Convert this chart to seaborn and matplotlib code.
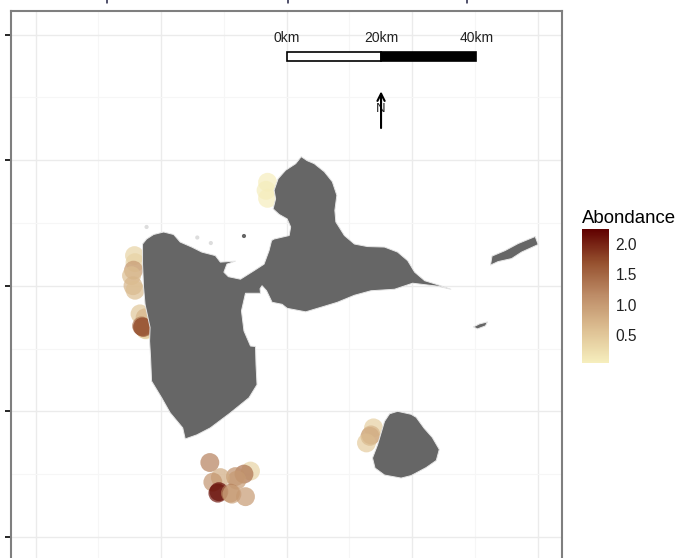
import pandas as pd
import matplotlib
matplotlib.use('Agg')
import matplotlib.pyplot as plt
import seaborn as sns
from matplotlib.colors import LinearSegmentedColormap, Normalize
from matplotlib.cm import ScalarMappable
from matplotlib.lines import Line2D
from matplotlib.patches import Polygon, Rectangle

# sampling sites
site_lon = [-61.538, -61.541, -61.538, -61.803, -61.802, -61.805, -61.809, -61.806, -61.802,
            -61.792, -61.782, -61.780, -61.782, -61.789, -61.787, -61.785,
            -61.653, -61.572, -61.585, -61.602, -61.599, -61.632, -61.647, -61.635, -61.637,
            -61.612, -61.609, -61.582, -61.327, -61.334, -61.341, -61.332]
site_lat = [16.456, 16.440, 16.424, 16.310, 16.296, 16.281, 16.270, 16.250, 16.241,
            16.194, 16.186, 16.162, 16.163, 16.170, 16.168, 16.167,
            15.898, 15.881, 15.875, 15.870, 15.863, 15.868, 15.859, 15.840, 15.837,
            15.837, 15.835, 15.830, 15.967, 15.950, 15.937, 15.953]
abondance = [0.05, 0.06, 0.05, 0.35, 0.35, 1.0, 0.6, 0.7, 0.6,
             0.5, 0.7, 0.1, 0.5, 1.3, 1.8, 1.6,
             1.25, 0.35, 1.4, 1.1, 1.0, 0.8, 1.05, 2.2, 2.1,
             1.3, 0.9, 1.0, 0.4, 1.05, 0.45, 0.7]

# coastlines
main_lon = [-61.787, -61.779, -61.765, -61.745, -61.725, -61.712, -61.689, -61.669, -61.642, -61.632,
            -61.602, -61.619, -61.625, -61.616, -61.592, -61.565, -61.545, -61.535, -61.530, -61.525,
            -61.495, -61.492, -61.499, -61.515, -61.527, -61.522, -61.525, -61.517, -61.502, -61.482,
            -61.471, -61.459, -61.445, -61.425, -61.409, -61.400, -61.404, -61.402, -61.385, -61.365,
            -61.339, -61.305, -61.279, -61.259, -61.245, -61.225, -61.199, -61.173, -61.199, -61.249,
            -61.285, -61.332, -61.365, -61.399, -61.422, -61.462, -61.499, -61.509, -61.529, -61.540,
            -61.549, -61.553, -61.552, -61.582, -61.590, -61.585, -61.572, -61.562, -61.561, -61.559,
            -61.575, -61.612, -61.652, -61.679, -61.702, -61.707, -61.732, -61.749, -61.769, -61.771,
            -61.773, -61.772, -61.782, -61.785, -61.787]
main_lat = [16.333, 16.343, 16.352, 16.357, 16.352, 16.337, 16.327, 16.317, 16.310, 16.297,
            16.299, 16.293, 16.277, 16.268, 16.263, 16.280, 16.293, 16.320, 16.340, 16.343,
            16.350, 16.367, 16.383, 16.392, 16.403, 16.423, 16.440, 16.463, 16.480, 16.493,
            16.507, 16.499, 16.493, 16.477, 16.457, 16.430, 16.400, 16.377, 16.350, 16.333,
            16.328, 16.327, 16.317, 16.300, 16.277, 16.260, 16.252, 16.243, 16.249, 16.255,
            16.243, 16.240, 16.231, 16.217, 16.210, 16.198, 16.205, 16.213, 16.217, 16.240,
            16.250, 16.244, 16.235, 16.235, 16.200, 16.160, 16.130, 16.129, 16.093, 16.053,
            16.027, 15.997, 15.967, 15.953, 15.945, 15.967, 15.997, 16.027, 16.060, 16.107,
            16.140, 16.167, 16.213, 16.247, 16.293]
desirade_lon = [-61.094, -61.091, -61.065, -61.039, -61.005, -60.999, -61.032, -61.052, -61.079]
desirade_lat = [16.291, 16.309, 16.320, 16.334, 16.348, 16.332, 16.317, 16.304, 16.298]
galante_lon = [-61.279, -61.252, -61.242, -61.226, -61.210, -61.196, -61.202, -61.222, -61.252, -61.272,
               -61.305, -61.324, -61.329, -61.319, -61.305, -61.295]
galante_lat = [16.000, 15.994, 15.988, 15.966, 15.948, 15.924, 15.902, 15.888, 15.872, 15.867,
               15.873, 15.887, 15.907, 15.933, 15.980, 15.995]
petite_lon = [-61.128, -61.116, -61.100, -61.104, -61.120]
petite_lat = [16.168, 16.174, 16.178, 16.170, 16.164]
islet_lon = [-61.779, -61.678, -61.651, -61.585]
islet_lat = [16.367, 16.346, 16.335, 16.349]
islet_col = ['#dddddd', '#dddddd', '#dddddd', '#666666']

major_lon = [-62.0, -61.75, -61.5, -61.25, -61.0]
minor_lon = [-61.875, -61.625, -61.375, -61.125]
major_lat = [15.75, 16.0, 16.25, 16.5, 16.75]
minor_lat = [15.875, 16.125, 16.375, 16.625]

scale_km = [0, 20, 40]
scale_lon = [-61.5, -61.3115, -61.122]
cbar_ticks = [0.5, 1.0, 1.5, 2.0]

sns.set_theme(style='white')
plt.rcParams['font.family'] = ['Liberation Sans', 'DejaVu Sans']

W, H = 676, 558
fig = plt.figure(figsize=(W / 100, H / 100), dpi=100)
ax = fig.add_axes([11 / W, (558 - 570) / H, 551.3 / W, 559.5 / H])

cmap = LinearSegmentedColormap.from_list(
    'abondance', ['#F6EEBD', '#DDBF92', '#BE8D68', '#96512F', '#600000'])
norm = Normalize(0.036, 2.249)

df = pd.DataFrame({'lon': site_lon, 'lat': site_lat, 'abondance': abondance})
sns.scatterplot(data=df, x='lon', y='lat', hue='abondance', hue_norm=norm, palette=cmap,
                s=185, alpha=0.7, linewidth=0, legend=False, ax=ax, zorder=3)

# land goes over the points, the sites are clipped by the coast
for lon, lat in [(main_lon, main_lat), (desirade_lon, desirade_lat),
                 (galante_lon, galante_lat), (petite_lon, petite_lat)]:
    ax.add_patch(Polygon(list(zip(lon, lat)), closed=True, facecolor='#666666',
                         edgecolor='#e6e6e6', linewidth=0.7, joinstyle='round', zorder=4))
ax.scatter(islet_lon, islet_lat, s=9, c=islet_col, linewidth=0, zorder=4)

ax.set_xlim(-62.049, -60.951)
ax.set_ylim(15.684, 16.798)
ax.set_xlabel('')
ax.set_ylabel('')
ax.set_xticks(major_lon)
ax.set_xticks(minor_lon, minor=True)
ax.set_yticks(major_lat)
ax.set_yticks(minor_lat, minor=True)
ax.set_xticklabels([])
ax.set_yticklabels([])
ax.grid(which='major', color='#ebebeb', linewidth=1.0)
ax.grid(which='minor', color='#f6f6f6', linewidth=0.8)
ax.set_axisbelow(True)
ax.tick_params(axis='x', which='both', length=0)
ax.tick_params(axis='y', which='major', left=True, length=4, width=1.2, color='black')
ax.tick_params(axis='y', which='minor', length=0)
for s in ax.spines.values():
    s.set_color('#7f7f7f')
    s.set_linewidth(1.5)

# scale bar
ax.add_patch(Rectangle((scale_lon[0], 16.698), scale_lon[1] - scale_lon[0], 0.018,
                       facecolor='white', edgecolor='black', linewidth=1.2, zorder=5))
ax.add_patch(Rectangle((scale_lon[1], 16.698), scale_lon[2] - scale_lon[1], 0.018,
                       facecolor='black', edgecolor='black', linewidth=1.2, zorder=5))
for km, lon in zip(scale_km, scale_lon):
    ax.text(lon, 16.743, f'{km}km', ha='center', va='center', fontsize=10, color='#222222')

# north arrow
ax.annotate('', xy=(-61.312, 16.637), xytext=(-61.312, 16.564),
            arrowprops=dict(arrowstyle='->', color='black', lw=1.5, shrinkA=0, shrinkB=0,
                            mutation_scale=13), zorder=6)
ax.text(-61.312, 16.601, 'N', ha='center', va='center', fontsize=9.5, color='#222222', zorder=5)

# colour bar
cax = fig.add_axes([582.3 / W, (558 - 362.7) / H, 26.7 / W, 133.4 / H])
cbar = fig.colorbar(ScalarMappable(norm=norm, cmap=cmap), cax=cax, ticks=cbar_ticks)
cbar.outline.set_visible(False)
cbar.ax.set_yticklabels([f'{t:.1f}' for t in cbar_ticks])
cbar.ax.tick_params(which='major', left=True, right=True, direction='in', length=4,
                    width=0.8, color='white', labelsize=11.2, labelcolor='#222222', pad=4.8)
cbar.ax.minorticks_off()
fig.text(582 / W, (558 - 222.7) / H, 'Abondance', fontsize=13.4, color='black',
         ha='left', va='baseline')

# what is left of the cut off title at the top edge of the picture
for px in [107, 287.5, 467]:
    fig.add_artist(Line2D([px / W, px / W], [1, (558 - 3) / H], color='#222244', linewidth=1.1))

fig.savefig('out.png', dpi=100)
